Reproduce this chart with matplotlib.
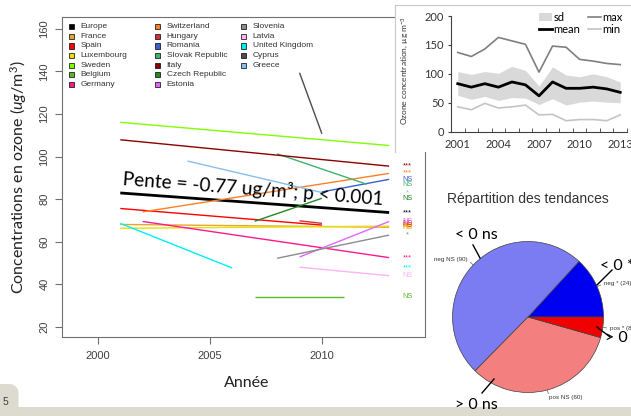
import matplotlib
matplotlib.use('Agg')
import matplotlib.pyplot as plt
from matplotlib.patches import Rectangle, Patch, Polygon
from matplotlib.lines import Line2D
import numpy as np

plt.rcParams['mathtext.fontset'] = 'custom'
plt.rcParams['mathtext.rm'] = 'Lato'
plt.rcParams['mathtext.it'] = 'Lato:italic'

W, H = 631, 416

# fitted trend per country: first/last year and fitted value at those years
countries = ['Europe', 'France', 'Spain', 'Luxembourg', 'Sweden', 'Belgium', 'Germany',
             'Switzerland', 'Hungary', 'Romania', 'Slovak Republic', 'Italy', 'Czech Republic', 'Estonia',
             'Slovenia', 'Latvia', 'United Kingdom', 'Cyprus', 'Greece']
colors = ['#000000', '#E6A532', '#FF0000', '#E8E000', '#7FFF00', '#5CB82A', '#FF1A8C',
          '#FF7F27', '#CD3333', '#3A5FCD', '#3CB371', '#8B0000', '#228B22', '#E066FF',
          '#8C8C8C', '#FFB3F2', '#00F0F0', '#4D4D4D', '#87BEEB']
year_start = [2001, 2001, 2001, 2001, 2001, 2007, 2002, 2002, 2009, 2010, 2008, 2001, 2007,
              2009, 2008, 2009, 2001, 2009, 2004]
year_end = [2013, 2013, 2010, 2013, 2013, 2011, 2013, 2013, 2010, 2013, 2012, 2013, 2010,
            2013, 2013, 2013, 2006, 2010, 2010]
conc_start = [82.9, 68.1, 75.6, 66.3, 116.1, 34.2, 69.5, 74.0, 69.8, 83.4, 101.3, 107.9, 69.6,
              52.8, 52.2, 48.0, 68.6, 139.4, 97.9]
conc_end = [73.7, 66.8, 67.8, 67.3, 105.2, 34.2, 52.5, 92.1, 68.6, 89.3, 87.0, 95.5, 80.4,
            69.5, 63.1, 44.0, 47.6, 110.7, 83.1]
signif = ['***', 'NS', 'NS', 'NS', '***', 'NS', '***', '***', 'NS', 'NS', 'NS', '***', 'NS',
          'NS', '*', 'NS', '***', 'NS', '*']

# inset: European ozone statistics
years_eu = [2001, 2002, 2003, 2004, 2005, 2006, 2007, 2008, 2009, 2010, 2011, 2012, 2013]
o3_max = [137, 130, 143, 163, 157, 151, 103, 148, 146, 125, 122, 118, 116]
o3_mean = [83, 77, 83, 77, 86, 81, 62, 86, 75, 75, 77, 74, 68]
o3_sd_hi = [104, 99, 104, 101, 113, 106, 79, 112, 98, 95, 100, 95, 86]
o3_sd_lo = [63, 56, 61, 54, 59, 58, 47, 57, 46, 51, 53, 51, 50]
o3_min = [43, 38, 49, 41, 43, 46, 29, 30, 19, 21, 21, 19, 29]

# pie of trend signs
pie_labels = ['neg * (24)', 'neg NS (90)', 'pos NS (60)', 'pos * (8)']
pie_counts = [24, 90, 60, 8]
pie_colors = ['#0000F0', '#7B7BF2', '#F47F7F', '#F00000']


def fx(px):
    return px / W


def fy(py):
    return 1 - py / H


def frect(x0, y0, x1, y1):
    return [x0 / W, 1 - y1 / H, (x1 - x0) / W, (y1 - y0) / H]


fig = plt.figure(figsize=(W / 100, H / 100), dpi=100)
fig.patch.set_facecolor('white')

# ---- main plot ----
ax = fig.add_axes(frect(62, 17, 425, 337))
for name, col, x0, x1, y0, y1, s in zip(countries, colors, year_start, year_end,
                                        conc_start, conc_end, signif):
    ax.plot([x0, x1], [y0, y1], color=col, lw=2.0 if name == 'Europe' else 1.0,
            solid_capstyle='butt')
    ax.text(2013.8, y1, s, color=col, fontsize=5.3, ha='center', va='center',
            family='Liberation Sans')
ax.set_xlim(1998.4, 2014.6)
ax.set_ylim(15.2, 165.6)
ax.set_xticks([2000, 2005, 2010])
ax.set_yticks([20, 40, 60, 80, 100, 120, 140, 160])
ax.tick_params(direction='out', length=5, width=0.8, color='#707070', labelsize=8,
               labelcolor='#404040')
ax.tick_params(axis='y', labelrotation=90, pad=4)
ax.tick_params(axis='x', pad=5)
for lab in ax.get_yticklabels():
    lab.set_va('center')
for lab in ax.get_xticklabels() + ax.get_yticklabels():
    lab.set_family('Liberation Sans')
for sp in ax.spines.values():
    sp.set_color('#707070')
    sp.set_linewidth(0.8)

# legend drawn by hand: R style, 3 equal-width columns of 7 rows
for i, (name, col) in enumerate(zip(countries, colors)):
    cx = 71.7 + 86 * (i // 7)
    cy = 26.7 + 9.6 * (i % 7)
    ax.add_patch(Rectangle(((cx - 2.6 - 62) / 363, (337 - cy - 2.6) / 320), 5.2 / 363, 5.2 / 320,
                           transform=ax.transAxes, facecolor=col, edgecolor='black', lw=0.5))
    ax.text((cx + 9 - 62) / 363, (337 - cy) / 320, name, transform=ax.transAxes,
            fontsize=6, va='center', ha='left', color='#333333', family='Liberation Sans')

fig.text(fx(122.7), fy(185), 'Pente = -0.77 ug/m³; p < 0.001', fontsize=13.8, family='Lato',
         rotation=-4.4, rotation_mode='anchor', ha='left', va='baseline')
fig.text(fx(19), fy(177.5), r'Concentrations en ozone ($\mathit{ug}$/m$^3$)', fontsize=11.5,
         family='Lato', rotation=90, ha='center', va='center', color='#222222')
fig.text(fx(247), fy(383), 'Année', fontsize=11.5, family='Lato', ha='center', va='center',
         color='#222222')

# ---- inset (pasted chart) ----
axbg = fig.add_axes(frect(395, 5, 640, 152))
axbg.set_xticks([])
axbg.set_yticks([])
axbg.set_facecolor('white')
for k, sp in axbg.spines.items():
    sp.set_color('#C8C8C8')
    sp.set_visible(k in ('left', 'top'))

ax2 = fig.add_axes(frect(451, 16, 627, 131.7))
xi = np.arange(len(years_eu))
ax2.fill_between(xi, o3_sd_lo, o3_sd_hi, color='#D9D9D9', lw=0)
ax2.plot(xi, o3_max, color='#7F7F7F', lw=1.2)
ax2.plot(xi, o3_min, color='#C4C4C4', lw=1.2)
ax2.plot(xi, o3_mean, color='black', lw=2.0)
ax2.set_xlim(-0.5, 12.5)
ax2.set_ylim(0, 200)
ax2.set_yticks([0, 50, 100, 150, 200])
ax2.set_xticks(xi[::3])
ax2.set_xticklabels([str(y) for y in years_eu[::3]])
ax2.set_xticks(np.arange(-0.5, 13, 1), minor=True)
ax2.tick_params(axis='x', which='major', length=0, pad=5)
ax2.tick_params(axis='x', which='minor', direction='in', length=3, color='#404040')
ax2.tick_params(axis='y', length=2, color='#404040', pad=3)
ax2.tick_params(labelsize=8, labelcolor='#333333')
for lab in ax2.get_xticklabels() + ax2.get_yticklabels():
    lab.set_family('Lato')
ax2.spines['top'].set_visible(False)
ax2.spines['right'].set_visible(False)
for k in ('left', 'bottom'):
    ax2.spines[k].set_color('#404040')
    ax2.spines[k].set_linewidth(0.8)
ax2.set_facecolor('none')
handles = [Patch(facecolor='#D9D9D9', label='sd'),
           Line2D([], [], color='black', lw=2.0, label='mean'),
           Line2D([], [], color='#7F7F7F', lw=1.2, label='max'),
           Line2D([], [], color='#C4C4C4', lw=1.2, label='min')]
ax2.legend(handles=handles, ncol=2, loc='upper left', bbox_to_anchor=(fx(539), fy(12)),
           bbox_transform=fig.transFigure, frameon=False, prop={'family': 'Lato', 'size': 8},
           handlelength=1.2, handletextpad=0.1, columnspacing=0.7, labelspacing=0.1,
           borderpad=0, borderaxespad=0)
fig.text(fx(405), fy(70), 'Ozone concentration, µg m$^{-3}$', fontsize=6, family='Lato',
         rotation=90, ha='center', va='center', color='#333333')

# ---- pie ----
axp = fig.add_axes(frect(528 - 75.5, 317 - 75.5, 528 + 75.5, 317 + 75.5))
wedges, texts = axp.pie(pie_counts, colors=pie_colors, labels=pie_labels, startangle=0,
                        counterclock=True, labeldistance=1.1, radius=1,
                        wedgeprops=dict(edgecolor='#404040', lw=0.5),
                        textprops=dict(fontsize=4.5, color='#333333', family='Liberation Sans'))
for w in wedges:
    th = np.deg2rad((w.theta1 + w.theta2) / 2)
    axp.plot([np.cos(th), 1.05 * np.cos(th)], [np.sin(th), 1.05 * np.sin(th)],
             color='#606060', lw=0.5, clip_on=False)
axp.set_xlim(-1, 1)
axp.set_ylim(-1, 1)
axp.set_aspect('equal')
axp.axis('off')

fig.text(fx(527.5), fy(199), 'Répartition des tendances', fontsize=10, family='Liberation Sans',
         ha='center', va='center', color='#333333')

ann_text = ['< 0 ns', '< 0 *', '> 0 *', '> 0 ns']
ann_pos = [(455, 235), (600, 266), (605, 338), (455, 405)]
ann_lines = [((473, 245), (480, 258)), ((612, 270), (597, 285)),
             ((597, 327), (610, 337)), ((494, 379), (482, 393))]
for t, (px, py), ((a, b), (c, d)) in zip(ann_text, ann_pos, ann_lines):
    fig.text(fx(px), fy(py), t, fontsize=11.5, family='Lato', ha='left', va='center')
    fig.add_artist(Line2D([fx(a), fx(c)], [fy(b), fy(d)], transform=fig.transFigure,
                          color='black', lw=1.0))

# ---- slide footer ----
band = '#DDDBD0'
fig.add_artist(Rectangle((0, 0), 1, fy(407), transform=fig.transFigure, facecolor=band,
                         edgecolor='none'))
arc = np.linspace(0, np.pi / 2, 12)
r = 9
tab = [(0, 416), (0, 384)] + [(18.5 - r + r * np.sin(a), 384 + r - r * np.cos(a)) for a in arc] + [(18.5, 416)]
fig.add_artist(Polygon([(fx(x), fy(y)) for x, y in tab], closed=True, transform=fig.transFigure,
                       facecolor=band, edgecolor='none'))
fig.text(fx(3), fy(402), '5', fontsize=7.5, family='Liberation Sans', color='#404040',
         ha='left', va='center')

fig.savefig('out.png', dpi=100)
